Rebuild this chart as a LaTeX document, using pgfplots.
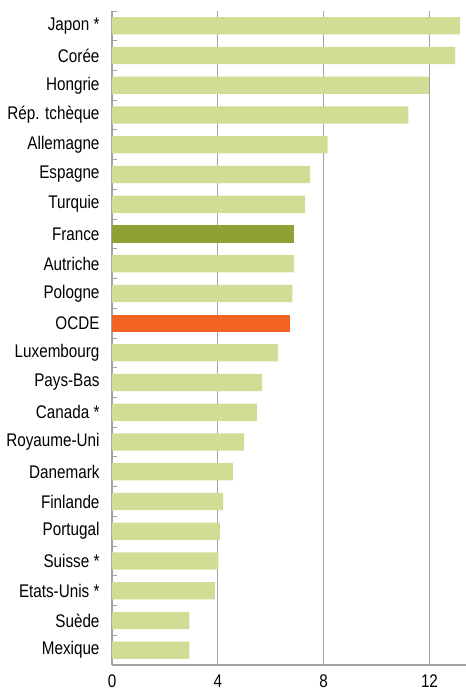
\documentclass[border=0pt]{standalone}
\usepackage{pgfplots}
\pgfplotsset{compat=1.18}
\usepackage{fontspec}
\setmainfont{Liberation Sans}
\definecolor{lgreen}{HTML}{CFDE94}
\definecolor{dgreen}{HTML}{8FA133}
\definecolor{oorange}{HTML}{F26322}
\definecolor{gridgray}{HTML}{A3A3A3}
\newcommand\sy[1]{\scalebox{1}[1.2]{#1}}
\begin{document}
\begin{tikzpicture}
\path[use as bounding box] (-112bp,-27bp) rectangle (354bp,665bp);
\begin{axis}[
  scale only axis,
  width=354bp, height=654bp,
  xbar, bar width=0.58, bar shift=0pt,
  xmin=0, xmax=13.38,
  ymin=-0.5, ymax=21.5,
  y dir=reverse,
  axis x line=bottom, axis y line=left,
  axis line style={-, draw=gridgray, line width=1.1bp},
  xtick={0,4,8,12},
  xticklabels={\sy{0},\sy{4},\sy{8},\sy{12}},
  xmajorgrids,
  grid style={draw=gridgray, line width=1.1bp},
  major x tick style={draw=none},
  ytick={0,...,21},
  major y tick style={draw=none},
  minor ytick={-0.5,0.5,...,21.5},
  minor tick length=5bp,
  minor y tick style={draw=gridgray, line width=0.9bp},
  tick align=inside,
  yticklabels={\sy{Japon *},\sy{Corée},\sy{Hongrie},\sy{Rép. tchèque},\sy{Allemagne},\sy{Espagne},\sy{Turquie},\sy{France},\sy{Autriche},\sy{Pologne},\sy{OCDE},\sy{Luxembourg},\sy{Pays-Bas},\sy{Canada *},\sy{Royaume-Uni},\sy{Danemark},\sy{Finlande},\sy{Portugal},\sy{Suisse *},\sy{Etats-Unis *},\sy{Suède},\sy{Mexique}},
  yticklabel style={font=\fontsize{15.3}{18}\selectfont, xshift=-9bp},
  xticklabel style={font=\fontsize{15.3}{18}\selectfont, yshift=-6bp},
  clip=false,
]
\addplot[fill=lgreen, draw=none] coordinates {
  (13.16,0) (12.97,1) (11.98,2) (11.2,3) (8.15,4) (7.49,5) (7.3,6)
  (6.88,8) (6.82,9)
  (6.28,11) (5.67,12) (5.48,13) (4.99,14) (4.57,15) (4.2,16) (4.08,17)
  (4.02,18) (3.89,19) (2.92,20) (2.92,21)
};
\addplot[fill=dgreen, draw=none] coordinates {(6.88,7)};
\addplot[fill=oorange, draw=none] coordinates {(6.73,10)};
\end{axis}
\end{tikzpicture}
\end{document}
